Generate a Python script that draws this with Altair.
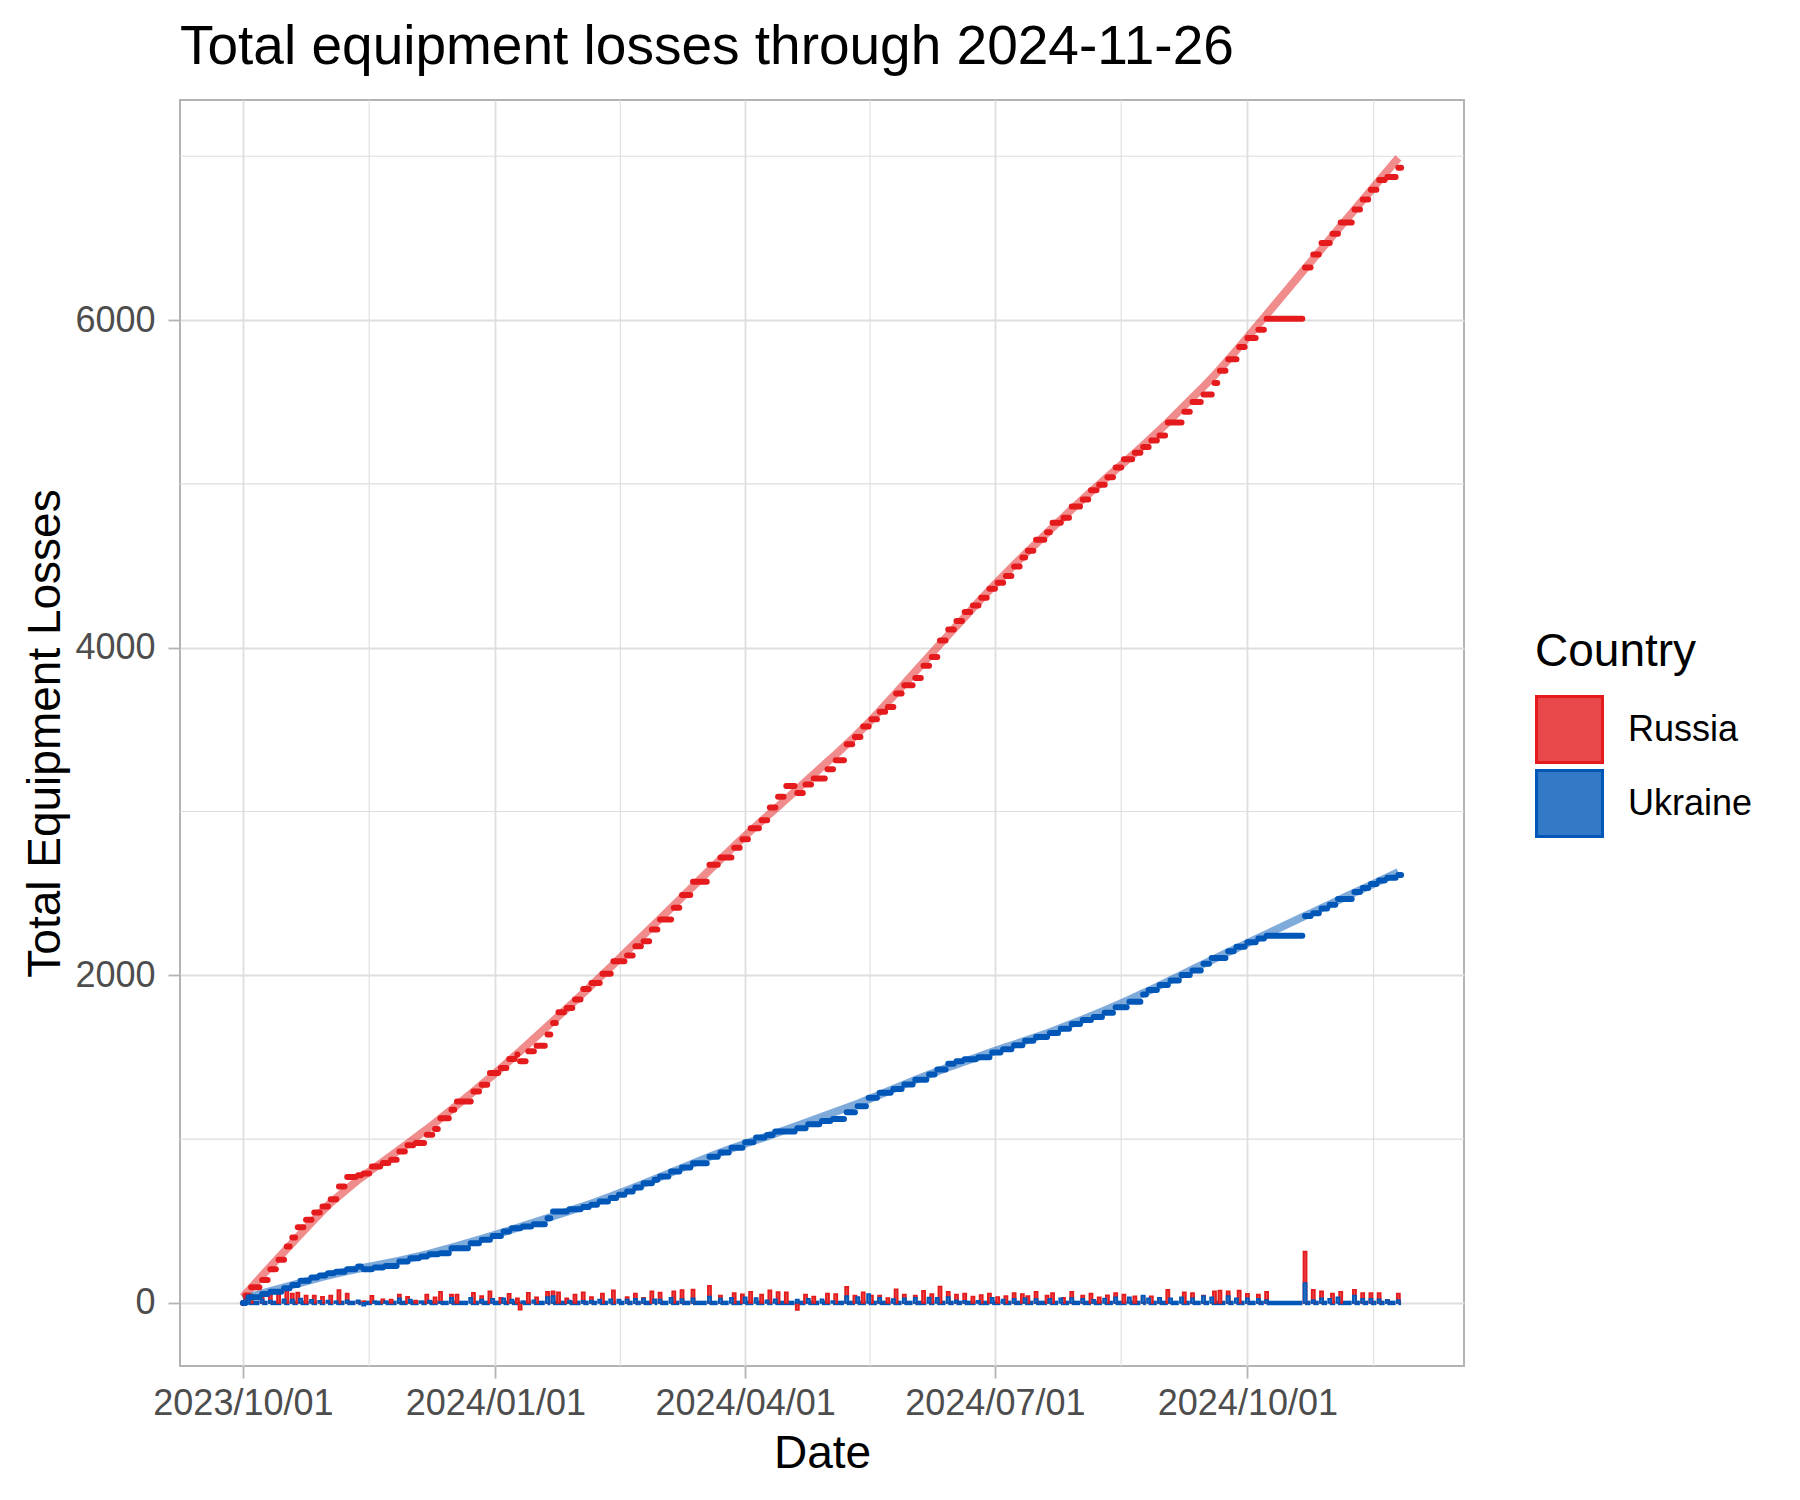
import altair as alt
import pandas as pd
from datetime import datetime, timezone

TITLE = "Total equipment losses through 2024-11-26"
START_DATE = "2023-10-01"
LAST_DAY = 422  # 2024-11-26, days after START_DATE
FONT = "Liberation Sans"

# cumulative losses at each update (day offset from START_DATE, value)
ru_days = [0, 1, 3, 7, 10, 13, 16, 18, 20, 23, 26, 29, 32, 35, 38, 42, 44, 47, 51, 54,
           57, 60, 63, 67, 70, 72, 76, 78, 84, 87, 90, 94, 97, 100, 101, 104, 107, 111, 113, 115,
           118, 121, 124, 127, 131, 135, 140, 143, 146, 149, 152, 157, 160, 164, 170, 174, 179, 182, 185, 189,
           192, 195, 198, 202, 205, 208, 213, 216, 220, 223, 226, 229, 232, 235, 238, 241, 245, 248, 251, 254,
           257, 260, 263, 266, 269, 272, 275, 278, 281, 284, 286, 289, 293, 295, 299, 302, 306, 309, 312, 315,
           318, 321, 325, 328, 331, 334, 337, 343, 346, 350, 354, 356, 359, 363, 366, 370, 373, 387, 390, 393,
           397, 400, 405, 408, 411, 414, 417, 421]
ru_vals = [0, 45, 96, 140, 206, 263, 344, 400, 462, 507, 552, 589, 633, 711, 768, 780, 790, 833, 854, 874,
           925, 962, 976, 1027, 1061, 1128, 1179, 1230, 1291, 1332, 1403, 1434, 1489, 1516, 1475, 1536, 1570, 1638, 1709, 1774,
           1801, 1852, 1917, 1953, 2010, 2086, 2121, 2178, 2208, 2279, 2341, 2412, 2490, 2571, 2675, 2719, 2778, 2830, 2897, 2947,
           3024, 3090, 3155, 3113, 3164, 3202, 3258, 3312, 3410, 3454, 3519, 3563, 3608, 3637, 3720, 3771, 3815, 3889, 3943, 4043,
           4111, 4162, 4218, 4257, 4304, 4360, 4396, 4437, 4496, 4550, 4591, 4659, 4704, 4763, 4793, 4861, 4905, 4961, 4994, 5040,
           5100, 5150, 5190, 5225, 5265, 5295, 5375, 5440, 5500, 5545, 5615, 5690, 5760, 5835, 5890, 5940, 6007, 6320, 6400, 6470,
           6527, 6595, 6675, 6735, 6795, 6855, 6873, 6930]

ua_days = [0, 2, 7, 10, 15, 18, 21, 25, 28, 31, 34, 38, 42, 44, 48, 52, 57, 61, 65, 68,
           72, 76, 83, 87, 91, 95, 98, 102, 106, 111, 113, 119, 124, 127, 130, 134, 137, 140, 143, 146,
           150, 152, 156, 160, 164, 170, 174, 178, 183, 187, 191, 194, 202, 206, 211, 215, 220, 224, 228, 232,
           237, 241, 245, 250, 253, 257, 260, 263, 268, 273, 277, 281, 285, 289, 294, 298, 302, 306, 310, 314,
           318, 323, 328, 330, 334, 338, 342, 346, 350, 353, 359, 362, 366, 370, 373, 387, 390, 393, 396, 399,
           405, 408, 411, 414, 417, 421]
ua_vals = [0, 35, 55, 69, 90, 110, 136, 155, 167, 181, 191, 206, 222, 206, 216, 226, 253, 273, 283, 297,
           303, 334, 365, 385, 409, 436, 456, 466, 481, 517, 558, 572, 585, 599, 619, 640, 660, 680, 705, 731,
           752, 772, 803, 826, 853, 892, 918, 948, 981, 1010, 1025, 1046, 1066, 1090, 1111, 1122, 1164, 1200, 1253, 1283,
           1306, 1333, 1363, 1395, 1425, 1460, 1475, 1487, 1499, 1529, 1549, 1573, 1600, 1623, 1647, 1674, 1703, 1727, 1745, 1771,
           1805, 1838, 1883, 1910, 1941, 1968, 2002, 2030, 2071, 2105, 2146, 2174, 2201, 2225, 2242, 2362, 2379, 2407, 2431, 2465,
           2509, 2533, 2557, 2578, 2595, 2612]

countries = ["Russia", "Ukraine"]
fill_colors = ["#E9484A", "#3379C5"]
line_colors = ["#E41A1C", "#0057B7"]

x_tick_dates = ["2023-10-01", "2024-01-01", "2024-04-01", "2024-07-01", "2024-10-01"]
x_minor_dates = ["2023-11-16T00:00:00", "2024-02-15T12:00:00", "2024-05-16T12:00:00",
                 "2024-08-16T00:00:00", "2024-11-16T00:00:00"]
y_ticks = [0, 2000, 4000, 6000]
y_minor = [1000, 3000, 5000, 7000]
x_limits = ["2023-09-09T21:36:00", "2024-12-17T02:24:00"]
y_limits = [-385, 7343]


def ms(s):
    return int(datetime.fromisoformat(s).replace(tzinfo=timezone.utc).timestamp() * 1000)


DAY = 86400000
base = ms(START_DATE)

run_rows, daily_rows = [], []
for country, days, vals in (("Russia", ru_days, ru_vals), ("Ukraine", ua_days, ua_vals)):
    for i, (d, v) in enumerate(zip(days, vals)):
        end = days[i + 1] - 1 if i + 1 < len(days) else LAST_DAY
        run_rows.append({"country": country, "t": base + d * DAY, "t2": base + end * DAY,
                         "value": v, "zero": 0})
        if i > 0:
            daily_rows.append({"country": country, "t": base + d * DAY, "delta": v - vals[i - 1]})

runs = pd.DataFrame(run_rows)
daily = pd.DataFrame(daily_rows)

x_scale = alt.Scale(type="utc", domain=[ms(x_limits[0]), ms(x_limits[1])], nice=False)
y_scale = alt.Scale(domain=y_limits, nice=False, zero=False)
fill_scale = alt.Scale(domain=countries, range=fill_colors)
stroke_scale = alt.Scale(domain=countries, range=line_colors)

x_axis = alt.Axis(values=[ms(d) for d in x_tick_dates], format="%Y/%m/%d", title="Date",
                  labelPadding=8, labelLimit=0, titleX=642, titleY=101,
                  titleBaseline="alphabetic", titleAlign="center")
y_axis = alt.Axis(values=y_ticks, format="d", title="Total Equipment Losses", labelPadding=13,
                  titleX=-121, titleY=633, titleAngle=270, titleBaseline="alphabetic",
                  titleAlign="center")


def X(field="t"):
    return alt.X(f"{field}:T", scale=x_scale, axis=x_axis)


def Y(field):
    return alt.Y(f"{field}:Q", scale=y_scale, axis=y_axis, stack=None)


minor_x = alt.Chart(pd.DataFrame({"t": [ms(d) for d in x_minor_dates]})).mark_rule(
    color="#DEDEDE", strokeWidth=1.1).encode(x=X())
minor_y = alt.Chart(pd.DataFrame({"v": y_minor})).mark_rule(
    color="#DEDEDE", strokeWidth=1.1).encode(y=Y("v"))

baseline = alt.Chart(runs[runs.country == "Ukraine"]).mark_rule(
    strokeWidth=4.5, color="#0057B7").encode(x=X(), x2="t2:T", y=Y("zero"))

bars = alt.Chart(daily).mark_bar(width=3, strokeWidth=1.8).encode(
    x=X(), y=Y("delta"),
    fill=alt.Fill("country:N", scale=fill_scale, legend=alt.Legend(title="Country")),
    stroke=alt.Stroke("country:N", scale=stroke_scale, legend=alt.Legend(title="Country")),
)

# smooth trend of the cumulative series (loess computed by Vega-Lite)
smooth = alt.Chart(runs).transform_loess(
    "t", "value", groupby=["country"], bandwidth=0.18
).mark_line(strokeWidth=8, strokeOpacity=0.5).encode(
    x=X(), y=Y("value"), stroke=alt.Stroke("country:N", scale=stroke_scale, legend=None))

steps = alt.Chart(runs).mark_rule(strokeWidth=6, strokeCap="round").encode(
    x=X(), x2="t2:T", y=Y("value"),
    stroke=alt.Stroke("country:N", scale=stroke_scale, legend=None))

chart = alt.layer(minor_x, minor_y, baseline, bars, smooth, steps).properties(
    width=1284, height=1266,
    autosize=alt.AutoSizeParams(type="none"),
    padding={"left": 172, "top": 92, "right": 300, "bottom": 120},
    title=alt.TitleParams(TITLE, anchor="start", frame="group", font=FONT, fontSize=55,
                          fontWeight="normal", color="black", baseline="alphabetic", offset=-20),
).configure_view(
    stroke="#B3B3B3", strokeWidth=2
).configure_axis(
    grid=True, gridColor="#DEDEDE", gridWidth=1.8, domain=False,
    tickColor="#B3B3B3", tickWidth=1.8, tickSize=12,
    labelFont=FONT, labelFontSize=36, labelColor="#4D4D4D",
    titleFont=FONT, titleFontSize=46, titleColor="black", titleFontWeight="normal",
).configure_legend(
    orient="none", legendX=1355, legendY=530, padding=0,
    titleFont=FONT, titleFontSize=46, titleColor="black", titleFontWeight="normal",
    titlePadding=19, labelFont=FONT, labelFontSize=36, labelColor="black",
    symbolType="square", symbolSize=4356, symbolStrokeWidth=3, rowPadding=-8, labelOffset=24,
)

chart.save("out.html", embed_options={"renderer": "svg", "actions": False})
